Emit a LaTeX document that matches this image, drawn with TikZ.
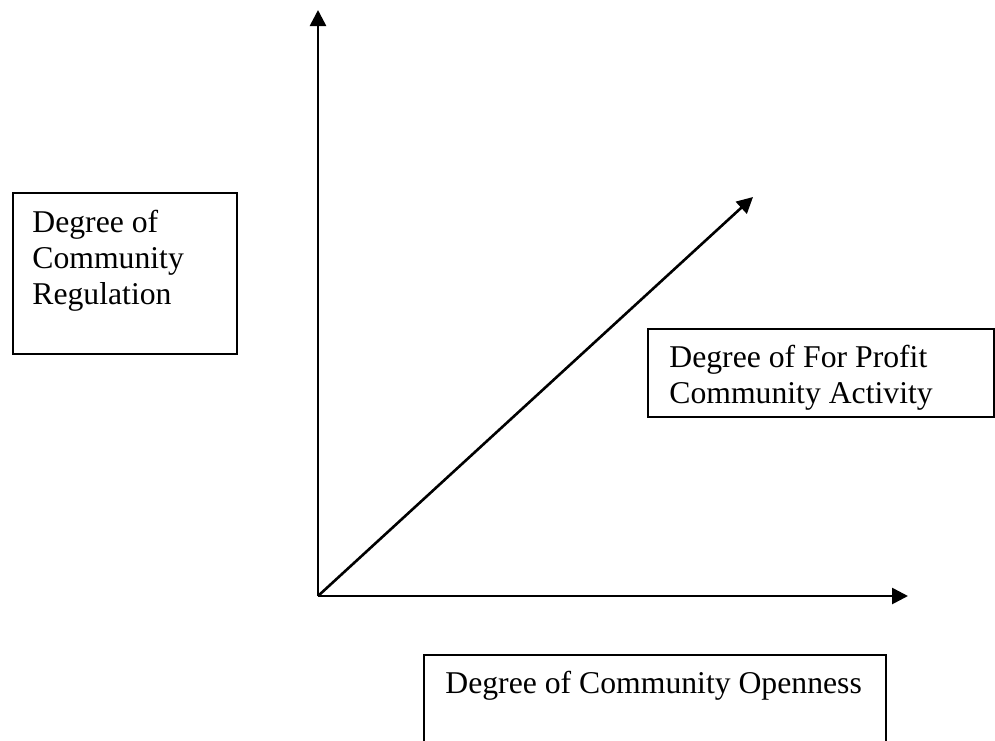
\documentclass[tikz,border=0pt]{standalone}
\usepackage{fontspec}
\setmainfont{Liberation Serif}
\usetikzlibrary{arrows.meta}
\begin{document}
\begin{tikzpicture}[x=0.5pt,y=-0.5pt,
  axis/.style={line width=1.3pt,-{Triangle[length=8pt,width=8pt]}},
  frame/.style={draw,line width=0.9pt,inner sep=0pt,anchor=north west},
  lbl/.style={anchor=base west,inner sep=0pt,font=\fontsize{15.85pt}{18.2pt}\selectfont}]
\useasboundingbox (0,0) rectangle (995,740);
\clip (0,0) rectangle (995,740);

% axes meeting at the origin
\coordinate (O) at (318,596);
\coordinate (ytip) at (318,10);
\coordinate (xtip) at (908,596);
\coordinate (dtip) at (753,197);
\draw[axis] (O) -- (ytip);
\draw[axis] (O) -- (xtip);
\draw[axis] (O) -- (dtip);

% labelled boxes
\node[frame,minimum width=112pt,minimum height=80.5pt] (regbox) at (12,192) {};
\node[lbl] (regtext) at ([shift={(20,40)}]regbox.north west)
  {\vtop{\hbox{Degree of}\hbox{Community}\hbox{Regulation}}};

\node[frame,minimum width=173pt,minimum height=44pt] (profbox) at (647,328) {};
\node[lbl] (proftext) at ([shift={(22,39)}]profbox.north west)
  {\vtop{\hbox{Degree of For Profit}\hbox{Community Activity}}};

\node[frame,minimum width=231pt,minimum height=60pt] (openbox) at (423,654) {};
\node[lbl] (opentext) at ([shift={(22,39)}]openbox.north west)
  {Degree of Community Openness};
\end{tikzpicture}
\end{document}
